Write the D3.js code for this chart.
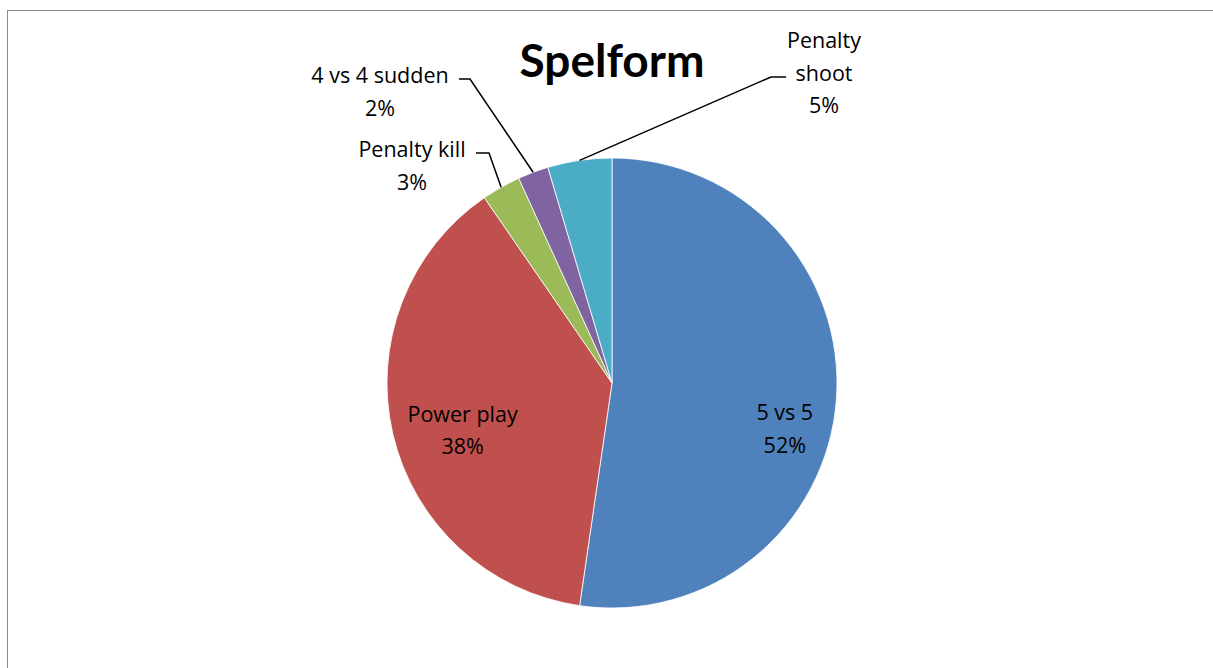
<!DOCTYPE html>
<html>
<head>
<meta charset="utf-8">
<script src="https://cdn.jsdelivr.net/npm/d3@7"></script>
<style>
  html, body { margin: 0; padding: 0; background: #fff; }
  svg { display: block; }
  text { font-family: "Open Sans", Lato, sans-serif; fill: #000; }
</style>
</head>
<body>
<svg id="chart" width="1213" height="668"></svg>
<script>
// ---- data ----
const categories = ["5 vs 5", "Power play", "Penalty kill", "4 vs 4 sudden", "Penalty shoot"];
const values = [52.3, 38.1, 2.8, 2.2, 4.6];
const percentLabels = ["52%", "38%", "3%", "2%", "5%"];
const colors = ["#4F81BD", "#C0504D", "#9BBB59", "#8064A2", "#4BACC6"];
const title = "Spelform";

// ---- layout ----
const W = 1213, H = 668;
const cx = 612, cy = 383, R = 225;
const svg = d3.select("#chart");

// border
svg.append("rect").attr("x", 7.5).attr("y", 10.5).attr("width", 1300).attr("height", 700)
  .attr("fill", "none").attr("stroke", "#8c8c8c").attr("stroke-width", 1);

svg.append("text").attr("x", cx).attr("y", 77).attr("text-anchor", "middle")
  .style("font-family", "Lato, sans-serif")
  .style("font-size", "46px").style("font-weight", "bold").text(title);

const pie = d3.pie().sort(null).value(d => d)(values);
const arc = d3.arc().innerRadius(0).outerRadius(R);
const g = svg.append("g").attr("transform", `translate(${cx},${cy})`);

g.selectAll("path").data(pie).join("path")
  .attr("d", arc).attr("fill", (d, i) => colors[i])
  .attr("stroke", "#fff").attr("stroke-width", 0.8);

// label placement: inside (offset from centroid) or outside (absolute + leader)
const labelLayout = [
  { inside: true, r: 0.77, dy: 34 },
  { inside: true, r: 0.70, dy: 12, dx: 4 },
  { inside: false, lines: ["Penalty kill", "3%"], x: 412, y: 157, hx: [476, 489] },
  { inside: false, lines: ["4 vs 4 sudden", "2%"], x: 380, y: 83, hx: [459, 470] },
  { inside: false, lines: ["Penalty", "shoot", "5%"], x: 824, y: 48, hx: [786, 771], hy: 81 }
];
const lineH = 32.5;
const fs = "21.5px";

pie.forEach((d, i) => {
  const L = labelLayout[i];
  const mid = (d.startAngle + d.endAngle) / 2;
  if (L.inside) {
    const rr = R * L.r;
    const x = cx + rr * Math.sin(mid) + (L.dx || 0), y = cy - rr * Math.cos(mid) + L.dy;
    const lines = [categories[i], percentLabels[i]];
    lines.forEach((t, k) => {
      svg.append("text").attr("x", x).attr("y", y + (k - 0.5) * lineH + 7)
        .attr("text-anchor", "middle").style("font-size", fs).text(t);
    });
  } else {
    const lines = L.lines;
    lines.forEach((t, k) => {
      svg.append("text").attr("x", L.x).attr("y", L.y + k * lineH)
        .attr("text-anchor", "middle").style("font-size", fs).text(t);
    });
    const ex = cx + R * Math.sin(mid), ey = cy - R * Math.cos(mid);
    const hy = (L.hy !== undefined ? L.hy : L.y) - 4;
    svg.append("path")
      .attr("d", `M${L.hx[0]},${hy}L${L.hx[1]},${hy}L${ex},${ey}`)
      .attr("fill", "none").attr("stroke", "#000").attr("stroke-width", 1.5);
  }
});
</script>
</body>
</html>
